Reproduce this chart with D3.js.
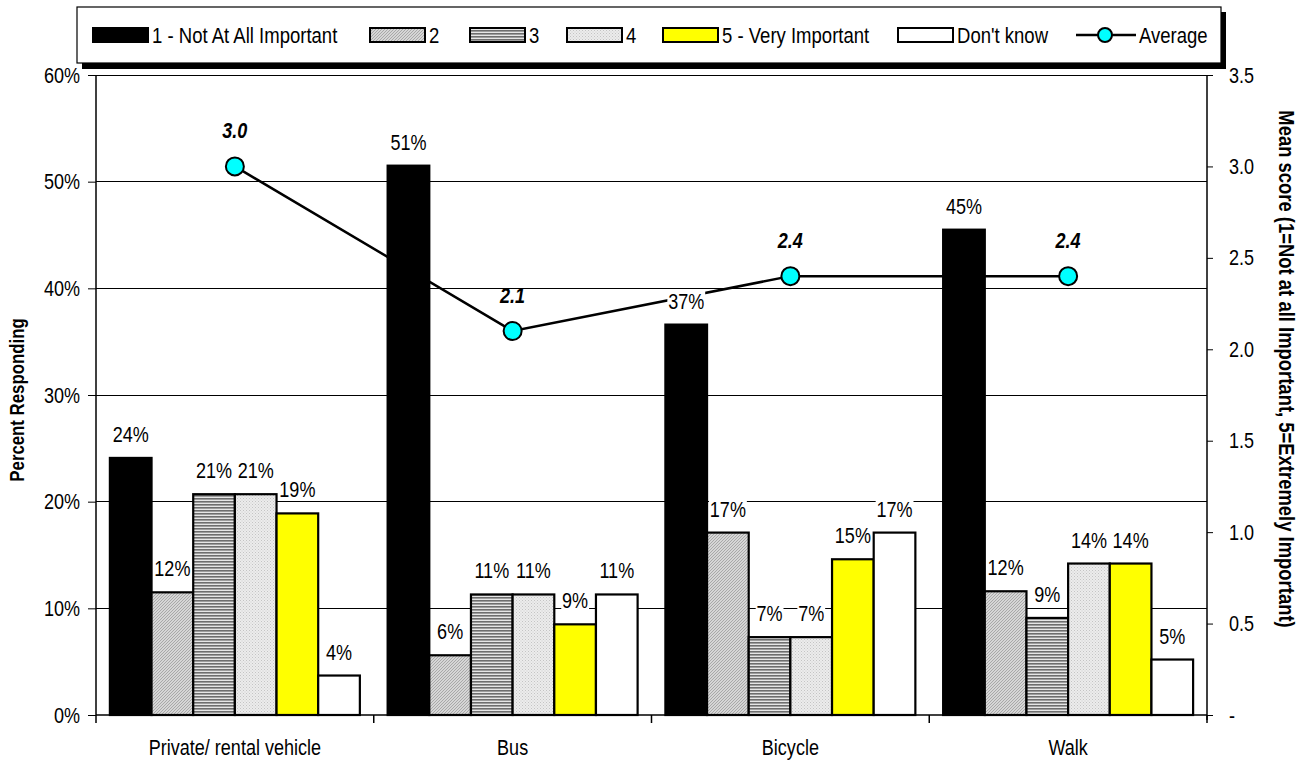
<!DOCTYPE html>
<html><head><meta charset="utf-8">
<script src="https://cdn.jsdelivr.net/npm/d3@7/dist/d3.min.js"></script>
<style>
body{margin:0;background:#fff;}
</style></head>
<body><svg id="chart" width="1302" height="762"></svg>
<script>
const categories = ["Private/ rental vehicle","Bus","Bicycle","Walk"];
const seriesNames = ["1 - Not At All Important","2","3","4","5 - Very Important","Don't know"];
const s1 = [24.1, 51.5, 36.6, 45.5];
const s2 = [11.5, 5.6, 17.1, 11.6];
const s3 = [20.7, 11.3, 7.3, 9.1];
const s4 = [20.7, 11.3, 7.3, 14.2];
const s5 = [18.9, 8.5, 14.6, 14.2];
const sDK = [3.7, 11.3, 17.1, 5.2];
const seriesLabels = [["24%","51%","37%","45%"],["12%","6%","17%","12%"],["21%","11%","7%","9%"],["21%","11%","7%","14%"],["19%","9%","15%","14%"],["4%","11%","17%","5%"]];
const average = [3.0, 2.1, 2.4, 2.4];
const averageLabels = ["3.0","2.1","2.4","2.4"];
const leftTicks = [0,10,20,30,40,50,60];
const rightTicks = [0,0.5,1,1.5,2,2.5,3,3.5];

const series = [s1,s2,s3,s4,s5,sDK];
const fills = ["#000","url(#p2)","url(#p3)","url(#p4)","#ffff00","#fff"];

const FF = "'Liberation Sans', Arial, sans-serif";
const K = 0.82; // horizontal condensation (Arial Narrow look)
const LS = 22;

const svg = d3.select("#chart").style("font-family",FF);
const defs = svg.append("defs");
let p = defs.append("pattern").attr("id","p2").attr("width",3).attr("height",3).attr("patternUnits","userSpaceOnUse");
p.append("rect").attr("width",3).attr("height",3).attr("fill","#d6d6d6");
p.append("path").attr("d","M0,3 L3,0 M-1,1 L1,-1 M2,4 L4,2").attr("stroke","#a8a8a8").attr("stroke-width",1);
p = defs.append("pattern").attr("id","p3").attr("width",4).attr("height",3).attr("patternUnits","userSpaceOnUse");
p.append("rect").attr("width",4).attr("height",3).attr("fill","#e6e6e6");
p.append("rect").attr("width",4).attr("height",1.6).attr("fill","#6e6e6e");
p = defs.append("pattern").attr("id","p4").attr("width",3).attr("height",3).attr("patternUnits","userSpaceOnUse");
p.append("rect").attr("width",3).attr("height",3).attr("fill","#ececec");
p.append("rect").attr("x",0).attr("y",0).attr("width",1).attr("height",1).attr("fill","#c4c4c4");
p.append("rect").attr("x",1.5).attr("y",1.5).attr("width",1).attr("height",1).attr("fill","#cfcfcf");

function condense(sel){
  sel.each(function(){
    const t = d3.select(this);
    const x = +t.attr("x")||0, yy = +t.attr("y")||0;
    t.attr("x",0).attr("y",0).attr("transform",`translate(${x},${yy}) scale(${K},1)`);
  });
}

const L = 96, R = 1207, T = 75, B = 715;
const x0 = d3.scaleBand().domain(categories).range([L,R]).paddingInner(0.1).paddingOuter(0.05);
const x1 = d3.scaleBand().domain(d3.range(series.length)).range([0,x0.bandwidth()]);
const y = d3.scaleLinear().domain([0,60]).range([B,T]);
const y2 = d3.scaleLinear().domain([0,3.5]).range([B,T]);

svg.append("g").selectAll("line").data(leftTicks.slice(1)).join("line")
  .attr("x1",L).attr("x2",R).attr("y1",d=>y(d)).attr("y2",d=>y(d))
  .attr("stroke","#000").attr("stroke-width",1).attr("shape-rendering","crispEdges");

series.forEach((s,si)=>{
  svg.append("g").selectAll("rect").data(s).join("rect")
    .attr("x",(d,i)=>x0(categories[i])+x1(si))
    .attr("y",d=>y(d))
    .attr("width",x1.bandwidth())
    .attr("height",d=>B-y(d))
    .attr("fill",fills[si]).attr("stroke","#000").attr("stroke-width",2.2);
});

const cx = c=>x0(c)+x0.bandwidth()/2;
svg.append("path").datum(average)
  .attr("d",d3.line().x((d,i)=>cx(categories[i])).y(d=>y2(d)))
  .attr("fill","none").attr("stroke","#000").attr("stroke-width",2.5);

const lblG = svg.append("g");
series.forEach((s,si)=>{
  s.forEach((v,i)=>{
    const xx = x0(categories[i])+x1(si)+x1.bandwidth()/2;
    const g = lblG.append("g").attr("transform",`translate(${xx},${y(v)-16}) scale(${K},1)`);
    const t = g.append("text").attr("text-anchor","middle").attr("font-size",LS).text(seriesLabels[si][i]);
    const bb = t.node().getBBox();
    g.insert("rect","text").attr("x",bb.x-1).attr("y",bb.y+2).attr("width",bb.width+2).attr("height",bb.height-3).attr("fill","#fff");
  });
});

svg.append("g").selectAll("circle").data(average).join("circle")
  .attr("cx",(d,i)=>cx(categories[i])).attr("cy",d=>y2(d)).attr("r",9)
  .attr("fill","#00ffff").attr("stroke","#000").attr("stroke-width",2);
svg.append("g").selectAll("text").data(average).join("text")
  .attr("x",(d,i)=>cx(categories[i])).attr("y",d=>y2(d)-28)
  .attr("text-anchor","middle").attr("font-size",LS).attr("font-weight","bold").attr("font-style","italic")
  .text((d,i)=>averageLabels[i]).call(condense);

const yAxis = d3.axisLeft(y).tickValues(leftTicks).tickFormat(d=>d+"%").tickSize(8).tickPadding(8);
const gl = svg.append("g").attr("transform",`translate(${L},0)`).call(yAxis);
const y2Axis = d3.axisRight(y2).tickValues(rightTicks).tickFormat(d=>d===0?"-":d3.format(".1f")(d)).tickSize(6).tickPadding(16);
const gr = svg.append("g").attr("transform",`translate(${R},0)`).call(y2Axis);
[gl,gr].forEach(g=>{
  g.select(".domain").attr("stroke","#000").attr("stroke-width",1.5).attr("d", g===gl?`M0,${T}V${B}`:`M0,${T}V${B+5}`);
  g.selectAll(".tick line").attr("stroke","#000");
  g.selectAll(".tick text").attr("font-size",LS).attr("font-family",FF).attr("fill","#000").call(condense);
});
svg.append("line").attr("x1",L).attr("x2",R).attr("y1",B).attr("y2",B).attr("stroke","#000").attr("stroke-width",1.5);
const boundaries = d3.range(categories.length+1).map(i=>L+i*x0.step());
svg.append("g").selectAll("line").data(boundaries).join("line")
  .attr("x1",d=>d).attr("x2",d=>d).attr("y1",B).attr("y2",B+8).attr("stroke","#000").attr("stroke-width",1.5);
const xAxis = d3.axisBottom(x0).tickSize(0).tickPadding(24);
const gx = svg.append("g").attr("transform",`translate(0,${B})`).call(xAxis);
gx.select(".domain").remove();
gx.selectAll(".tick text").attr("font-size",LS).attr("font-family",FF).attr("fill","#000").call(condense);

svg.append("text").attr("transform",`translate(24,${(T+B)/2+5}) rotate(-90) scale(${K},1)`).attr("text-anchor","middle")
  .attr("font-size",20.5).attr("font-weight","bold").text("Percent Responding");
svg.append("text").attr("transform",`translate(1279,${(T+B)/2-26}) rotate(90) scale(${K},1)`).attr("text-anchor","middle")
  .attr("font-size",22.5).attr("font-weight","bold").text("Mean score (1=Not at all Important, 5=Extremely Important)");

const lg = svg.append("g");
lg.append("rect").attr("x",82).attr("y",12).attr("width",1144).attr("height",57).attr("fill","#000");
lg.append("rect").attr("x",77).attr("y",7).attr("width",1144).attr("height",56).attr("fill","#fff").attr("stroke","#000").attr("stroke-width",1.2);
const legX = [93,370,470,567,663,898];
seriesNames.forEach((n,i)=>{
  lg.append("rect").attr("x",legX[i]).attr("y",28).attr("width",55).attr("height",14)
    .attr("fill",fills[i]).attr("stroke","#000").attr("stroke-width",2);
  lg.append("text").attr("x",legX[i]+59).attr("y",43).attr("font-size",22.6).text(n).call(condense);
});
lg.append("line").attr("x1",1076).attr("x2",1136).attr("y1",35).attr("y2",35).attr("stroke","#000").attr("stroke-width",2.5);
lg.append("circle").attr("cx",1105).attr("cy",35).attr("r",7).attr("fill","#00ffff").attr("stroke","#000").attr("stroke-width",2);
lg.append("text").attr("x",1139).attr("y",43).attr("font-size",22.6).text("Average").call(condense);
</script></body></html>
